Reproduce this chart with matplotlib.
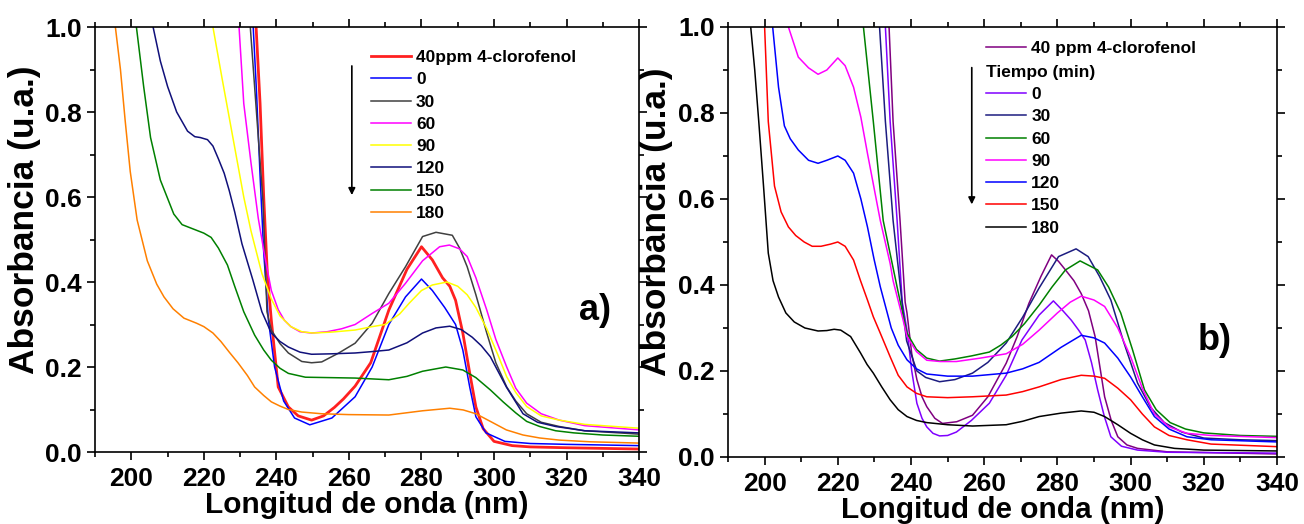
import matplotlib
matplotlib.use('Agg')
import matplotlib.pyplot as plt
from matplotlib.ticker import MultipleLocator

plt.rcParams['font.family'] = ['Liberation Sans', 'DejaVu Sans']
plt.rcParams['font.weight'] = 'bold'

# ---------------- panel a) ----------------
a_wl_40ppm = [233.8, 234.4, 235.5, 236.5, 237.5, 238.6, 240.5, 243.3, 246, 249.7, 253, 256, 258.5, 261.7, 266, 271, 276, 280, 283, 285.8, 287.8, 289.4, 291.4, 293.3, 295, 297, 300, 305, 310, 320, 340]
a_abs_40ppm = [1.05, 1.0, 0.82, 0.6, 0.42, 0.31, 0.153, 0.106, 0.085, 0.075, 0.085, 0.105, 0.125, 0.155, 0.21, 0.334, 0.43, 0.483, 0.452, 0.41, 0.39, 0.357, 0.28, 0.186, 0.106, 0.055, 0.025, 0.015, 0.012, 0.01, 0.007]

a_wl_0 = [233, 233.6, 234.5, 235.5, 236.5, 237.8, 239.5, 242, 245, 249.2, 255.3, 261.7, 266.4, 271, 275.6, 280, 283, 286.4, 289.4, 291.4, 293.3, 295, 297.8, 303, 310, 320, 340]
a_abs_0 = [1.05, 1.0, 0.85, 0.65, 0.47, 0.31, 0.2, 0.12, 0.08, 0.064, 0.08, 0.13, 0.2, 0.30, 0.365, 0.407, 0.38, 0.34, 0.30, 0.24, 0.153, 0.083, 0.045, 0.025, 0.02, 0.018, 0.015]

a_wl_30 = [232.2, 232.8, 234.5, 236.3, 237.4, 238.6, 241, 243.3, 247, 249.7, 252.5, 257, 261.7, 266.4, 271, 275.6, 280.3, 284, 288.5, 290.5, 292.6, 295, 298, 300.5, 303.5, 306, 309, 313, 318, 325, 340]
a_abs_30 = [1.05, 1.0, 0.8, 0.59, 0.33, 0.287, 0.255, 0.233, 0.213, 0.21, 0.212, 0.232, 0.256, 0.303, 0.373, 0.436, 0.507, 0.517, 0.51, 0.48, 0.436, 0.37, 0.28, 0.21, 0.153, 0.12, 0.09, 0.07, 0.06, 0.05, 0.042]

a_wl_60 = [229.2, 229.7, 231, 233, 235, 236.8, 238.6, 240.5, 242.2, 244, 246.5, 249.7, 254, 258, 261.7, 266.4, 271, 275.6, 280.3, 285, 287.7, 290.5, 292.6, 295, 298, 300.5, 303.5, 306, 309, 313, 318, 325, 340]
a_abs_60 = [1.05, 1.0, 0.82, 0.68, 0.55, 0.46, 0.38, 0.335, 0.31, 0.295, 0.283, 0.28, 0.283, 0.29, 0.30, 0.326, 0.35, 0.397, 0.45, 0.483, 0.487, 0.478, 0.46, 0.41, 0.334, 0.265, 0.2, 0.15, 0.115, 0.09, 0.075, 0.062, 0.052]

a_wl_90 = [222, 222.5, 225, 228, 231, 233, 236, 238.6, 241, 244, 247, 250, 255, 261.7, 266.4, 270, 274, 276.6, 280, 283, 287, 290, 292.6, 295, 298, 301, 303.5, 306, 309, 313, 318, 325, 340]
a_abs_90 = [1.05, 1.0, 0.88, 0.74, 0.6, 0.52, 0.42, 0.36, 0.32, 0.295, 0.283, 0.28, 0.282, 0.287, 0.295, 0.30, 0.325, 0.35, 0.38, 0.393, 0.40, 0.39, 0.37, 0.34, 0.29, 0.23, 0.177, 0.14, 0.107, 0.085, 0.075, 0.065, 0.056]

a_wl_120 = [205.5, 206, 208, 210, 212.5, 215.5, 217.5, 219, 221, 222.5, 224, 225.6, 227, 228.5, 230.5, 233.5, 236, 238.6, 241, 243.3, 246.5, 249.7, 255, 261.7, 266, 271, 276, 280.3, 284, 287.8, 291, 294, 296.5, 299, 303.4, 308, 312, 317, 325, 340]
a_abs_120 = [1.05, 1.0, 0.92, 0.86, 0.8, 0.755, 0.742, 0.74, 0.735, 0.72, 0.69, 0.656, 0.615, 0.565, 0.49, 0.405, 0.33, 0.28, 0.26, 0.247, 0.235, 0.23, 0.231, 0.233, 0.236, 0.24, 0.257, 0.28, 0.292, 0.296, 0.288, 0.27, 0.25, 0.224, 0.153, 0.09, 0.07, 0.06, 0.05, 0.045]

a_wl_150 = [201, 201.4, 203.4, 205.3, 208, 211.7, 214, 216.4, 218.5, 220, 222, 224, 226.5, 228.5, 231, 234, 236.5, 238.6, 241, 243.3, 248, 255, 261.7, 271, 276, 280.3, 286.7, 291.4, 295, 299, 302.5, 306, 309, 312.6, 317, 322, 330, 340]
a_abs_150 = [1.05, 1.0, 0.86, 0.74, 0.64, 0.56, 0.535, 0.527, 0.52, 0.515, 0.505, 0.48, 0.44, 0.39, 0.33, 0.275, 0.24, 0.216, 0.197, 0.185, 0.176, 0.175, 0.174, 0.17, 0.178, 0.19, 0.2, 0.193, 0.175, 0.146, 0.118, 0.092, 0.072, 0.06, 0.05, 0.045, 0.04, 0.037]

a_wl_180 = [195.2, 195.6, 197, 198.3, 199.7, 201.6, 204.4, 207, 209, 211.5, 214.5, 218, 220, 222.5, 224.7, 227, 229.4, 232, 234, 236.5, 238.6, 241, 243.3, 247, 252.5, 260, 271, 280.3, 287.8, 291.5, 295, 299, 303.4, 308, 312.6, 318, 326.6, 340]
a_abs_180 = [1.05, 1.0, 0.9, 0.78, 0.66, 0.546, 0.45, 0.395, 0.365, 0.337, 0.315, 0.303, 0.295, 0.28, 0.26, 0.235, 0.21, 0.18, 0.153, 0.133, 0.118, 0.108, 0.1, 0.094, 0.09, 0.088, 0.087, 0.097, 0.103, 0.099, 0.09, 0.072, 0.052, 0.04, 0.033, 0.028, 0.024, 0.021]

a_labels = ['40ppm 4-clorofenol', '0', '30', '60', '90', '120', '150', '180']
a_colors = ['#FF2020', '#0000FF', '#404040', '#FF00FF', '#FFFF00', '#10107A', '#008000', '#FF8000']

# ---------------- panel b) ----------------
b_wl_40ppm = [233.5, 234, 235.1, 237, 238.4, 238.9, 240.2, 241.6, 243, 244.3, 246.5, 248.6, 252.5, 256.8, 261, 266, 269, 272.2, 275.5, 278.4, 280.3, 282.2, 284.5, 286.5, 288.5, 290.3, 291.6, 292.9, 294.7, 296.5, 299, 301.9, 310, 340]
b_abs_40ppm = [1.05, 1.0, 0.78, 0.55, 0.36, 0.335, 0.24, 0.18, 0.14, 0.117, 0.09, 0.078, 0.082, 0.097, 0.14, 0.218, 0.28, 0.357, 0.42, 0.47, 0.455, 0.435, 0.41, 0.38, 0.34, 0.28, 0.21, 0.14, 0.085, 0.047, 0.028, 0.02, 0.012, 0.007]

b_wl_0 = [232.5, 233, 234.3, 236.2, 237.6, 238.9, 240.2, 241.6, 243, 244.3, 246, 247.8, 250, 252.4, 256.5, 261.4, 266, 270.3, 275, 278.9, 281.5, 283.8, 285.8, 287.6, 289.3, 291, 292.8, 294.6, 297.5, 301.9, 310, 340]
b_abs_0 = [1.05, 1.0, 0.78, 0.55, 0.36, 0.295, 0.2, 0.125, 0.09, 0.07, 0.055, 0.049, 0.05, 0.058, 0.085, 0.125, 0.19, 0.272, 0.33, 0.363, 0.34, 0.318, 0.295, 0.272, 0.22, 0.156, 0.095, 0.047, 0.025, 0.016, 0.011, 0.009]

b_wl_30 = [230.9, 231.4, 233, 235.1, 237.8, 238.8, 241.6, 244, 247.8, 252, 256.8, 261, 266, 270.5, 275, 280.3, 285.1, 288.4, 291.5, 294.6, 298, 301.9, 305.5, 309.2, 314, 320, 330, 340]
b_abs_30 = [1.05, 1.0, 0.78, 0.55, 0.34, 0.27, 0.2, 0.185, 0.175, 0.18, 0.195, 0.22, 0.265, 0.325, 0.393, 0.466, 0.484, 0.466, 0.42, 0.365, 0.27, 0.172, 0.115, 0.08, 0.058, 0.044, 0.04, 0.038]

b_wl_60 = [226.5, 227, 229.7, 232.4, 236.2, 238.9, 241.5, 244.3, 247.8, 252, 256.5, 261.4, 264.5, 267.6, 271, 275, 278.5, 282.2, 286.2, 291, 294, 297.3, 300.5, 303.8, 307, 310.8, 315, 320, 330, 340]
b_abs_60 = [1.05, 1.0, 0.78, 0.55, 0.395, 0.288, 0.25, 0.23, 0.223, 0.228, 0.235, 0.244, 0.26, 0.28, 0.31, 0.353, 0.395, 0.435, 0.456, 0.435, 0.395, 0.335, 0.25, 0.156, 0.11, 0.08, 0.065, 0.056, 0.05, 0.048]

b_wl_90 = [205.8, 206.5, 209.2, 212, 214.6, 217, 220, 222, 224.3, 226.3, 228.1, 231.6, 234.3, 235.1, 237.8, 238.9, 241.5, 244.3, 248, 252.4, 259, 266, 270.5, 275, 280, 283.5, 286.5, 290, 292.9, 296.5, 300, 303.2, 306.5, 310.5, 315.4, 322, 340]
b_abs_90 = [1.02, 1.0, 0.93, 0.905, 0.89, 0.9, 0.928, 0.91, 0.86, 0.79, 0.706, 0.55, 0.45, 0.41, 0.32, 0.28, 0.245, 0.225, 0.222, 0.222, 0.23, 0.24, 0.262, 0.295, 0.335, 0.36, 0.374, 0.365, 0.35, 0.3, 0.233, 0.16, 0.1, 0.07, 0.055, 0.05, 0.045]

b_wl_120 = [201.8, 202.2, 203.8, 205.4, 207, 209.2, 212, 214.6, 217, 220, 222, 224.3, 226.3, 228.1, 229.9, 231.6, 234.6, 236.5, 238.9, 241.5, 244.3, 250, 256.8, 266, 270.5, 275, 281, 286.5, 290, 292.9, 296.5, 300, 303.2, 306.5, 310.5, 315.4, 322, 340]
b_abs_120 = [1.05, 1.0, 0.86, 0.77, 0.74, 0.714, 0.69, 0.683, 0.69, 0.70, 0.69, 0.66, 0.6, 0.535, 0.46, 0.396, 0.3, 0.26, 0.226, 0.205, 0.193, 0.188, 0.188, 0.195, 0.205, 0.22, 0.255, 0.283, 0.277, 0.265, 0.23, 0.186, 0.14, 0.094, 0.065, 0.047, 0.04, 0.035]

b_wl_150 = [199.6, 200, 201, 202.7, 204.5, 206.5, 208.5, 210.8, 213, 215.4, 218, 220, 222, 224.3, 226.2, 228.1, 229.7, 231.5, 234.3, 236.5, 238.9, 241.5, 244.3, 250, 256.8, 266, 270.5, 275, 281, 286.5, 290, 292.9, 296.5, 300, 303.2, 306.5, 310.5, 315.4, 322, 340]
b_abs_150 = [1.05, 1.0, 0.78, 0.63, 0.57, 0.535, 0.515, 0.50, 0.49, 0.49, 0.495, 0.50, 0.49, 0.458, 0.41, 0.365, 0.326, 0.29, 0.233, 0.19, 0.163, 0.148, 0.14, 0.138, 0.14, 0.144, 0.152, 0.163, 0.18, 0.19, 0.188, 0.183, 0.16, 0.133, 0.1, 0.07, 0.05, 0.04, 0.03, 0.024]

b_wl_180 = [195.8, 196.2, 197.3, 198.4, 199.7, 201, 202.3, 203.8, 205.8, 208.1, 211, 214.6, 217, 219, 220.8, 223.5, 226.2, 228, 229.7, 232, 234.3, 236.5, 238.9, 241.5, 244.3, 250, 256.8, 266, 270.5, 275, 281, 286.5, 290, 292.9, 296.5, 300, 303.2, 306.5, 312, 320, 340]
b_abs_180 = [1.05, 1.0, 0.9, 0.78, 0.63, 0.474, 0.41, 0.372, 0.335, 0.314, 0.3, 0.293, 0.294, 0.297, 0.295, 0.28, 0.242, 0.215, 0.195, 0.163, 0.133, 0.11, 0.094, 0.085, 0.08, 0.075, 0.072, 0.075, 0.083, 0.094, 0.102, 0.107, 0.104, 0.094, 0.075, 0.055, 0.04, 0.028, 0.02, 0.016, 0.014]

b_labels = ['40 ppm 4-clorofenol', '0', '30', '60', '90', '120', '150', '180']
b_colors = ['#800080', '#8000FF', '#1C1C80', '#008000', '#FF00FF', '#0000FF', '#FF0000', '#000000']

a_series = [(a_wl_40ppm, a_abs_40ppm), (a_wl_0, a_abs_0), (a_wl_30, a_abs_30), (a_wl_60, a_abs_60),
            (a_wl_90, a_abs_90), (a_wl_120, a_abs_120), (a_wl_150, a_abs_150), (a_wl_180, a_abs_180)]
b_series = [(b_wl_40ppm, b_abs_40ppm), (b_wl_0, b_abs_0), (b_wl_30, b_abs_30), (b_wl_60, b_abs_60),
            (b_wl_90, b_abs_90), (b_wl_120, b_abs_120), (b_wl_150, b_abs_150), (b_wl_180, b_abs_180)]

fig = plt.figure(figsize=(13.04, 5.24), dpi=100)
ax_a = fig.add_axes([0.0729, 0.1374, 0.4172, 0.811])
ax_b = fig.add_axes([0.5583, 0.1279, 0.421, 0.8206])

leg_font = {'weight': 'bold', 'size': 12.5}


def style_axes(ax, ylab_y):
    ax.set_xlim(190, 340)
    ax.set_ylim(0, 1.0)
    ax.xaxis.set_major_locator(MultipleLocator(20))
    ax.xaxis.set_minor_locator(MultipleLocator(10))
    ax.yaxis.set_major_locator(MultipleLocator(0.2))
    ax.yaxis.set_minor_locator(MultipleLocator(0.1))
    ax.tick_params(which='both', direction='out', top=True, right=True, width=1.2, labelsize=19)
    ax.tick_params(which='major', length=6)
    ax.tick_params(which='minor', length=3.5)
    ax.tick_params(axis='x', pad=5)
    for sp in ax.spines.values():
        sp.set_linewidth(1.2)
    ax.set_xlabel('Longitud de onda (nm)', fontsize=21.5, fontweight='bold', labelpad=0)
    ax.set_ylabel('Absorbancia (u.a.)', fontsize=25.5, fontweight='bold')
    ax.yaxis.set_label_coords(-0.1, ylab_y)


# panel a
lines_a = []
for (wl, ab), lab, col in zip(a_series, a_labels, a_colors):
    lw = 2.0 if lab.startswith('40') else 1.1
    ln, = ax_a.plot(wl, ab, color=col, lw=lw, label=lab)
    lines_a.append(ln)
style_axes(ax_a, 0.546)
ax_a.legend(handles=lines_a, loc='upper left', bbox_to_anchor=(0.507, 0.946), frameon=False,
            prop=leg_font, handlelength=2.3, handletextpad=0.3,
            labelspacing=0.41, borderpad=0, borderaxespad=0)
ax_a.annotate('', xy=(0.472, 0.598), xytext=(0.472, 0.915), xycoords='axes fraction',
              arrowprops=dict(arrowstyle='-|>', color='black', lw=1.2, mutation_scale=10))
ax_a.text(327.8, 0.332, 'a)', fontsize=26, fontweight='bold', ha='center', va='center')

# panel b
lines_b = []
for (wl, ab), lab, col in zip(b_series, b_labels, b_colors):
    ln, = ax_b.plot(wl, ab, color=col, lw=1.1, label=lab)
    lines_b.append(ln)
style_axes(ax_b, 0.547)
leg1 = ax_b.legend(handles=lines_b[:1], loc='upper left', bbox_to_anchor=(0.47, 0.968), frameon=False,
                   prop=leg_font, handlelength=2.3, handletextpad=0.3,
                   borderpad=0, borderaxespad=0)
ax_b.add_artist(leg1)
ax_b.legend(handles=lines_b[1:], loc='upper left', bbox_to_anchor=(0.47, 0.912), frameon=False,
            prop=leg_font, title='Tiempo (min)', title_fontproperties=leg_font, alignment='left',
            handlelength=2.3, handletextpad=0.3, labelspacing=0.41, borderpad=0, borderaxespad=0)
ax_b.annotate('', xy=(0.444, 0.581), xytext=(0.444, 0.912), xycoords='axes fraction',
              arrowprops=dict(arrowstyle='-|>', color='black', lw=1.2, mutation_scale=10))
ax_b.text(323, 0.272, 'b)', fontsize=26, fontweight='bold', ha='center', va='center')

fig.savefig('out.png', dpi=100)
